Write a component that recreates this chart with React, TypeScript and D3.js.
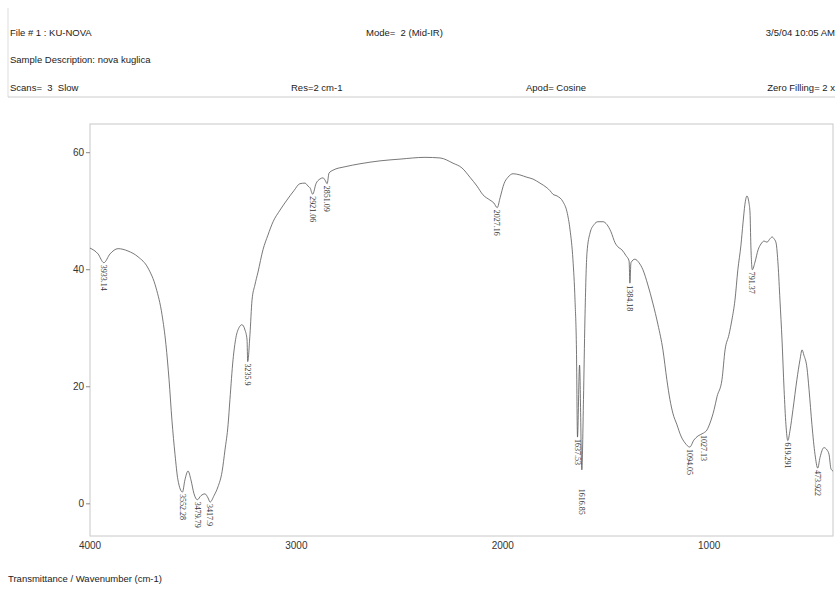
import React from "react";
import * as d3 from "d3";

// Spectrum trace (wavenumber cm-1, transmittance %)
const wavenumbers = [
  4000, 3961, 3933, 3903, 3864, 3816, 3767, 3719, 3680, 3651, 3632, 3617, 3603, 3588, 3574, 3552, 3540, 3525, 3511, 3496,
  3480, 3462, 3443, 3428, 3418, 3399, 3380, 3360, 3346, 3331, 3322, 3307, 3293, 3278, 3264, 3249, 3239, 3236, 3225, 3215,
  3201, 3186, 3162, 3138, 3113, 3079, 3046, 3012, 2983, 2958, 2944, 2934, 2921, 2905, 2886, 2871, 2861, 2851, 2842, 2823,
  2764, 2692, 2595, 2498, 2377, 2304, 2241, 2198, 2159, 2125, 2096, 2062, 2043, 2027, 2013, 1994, 1975, 1950, 1917, 1883,
  1854, 1820, 1786, 1771, 1757, 1737, 1708, 1689, 1674, 1660, 1650, 1643, 1638, 1628, 1617, 1609, 1602, 1592, 1577, 1558,
  1539, 1514, 1495, 1476, 1456, 1442, 1423, 1403, 1388, 1384, 1379, 1360, 1340, 1321, 1297, 1273, 1248, 1224, 1205, 1190,
  1176, 1156, 1137, 1117, 1094, 1074, 1054, 1027, 1011, 996, 976, 962, 938, 923, 904, 890, 875, 861, 846, 836,
  827, 817, 807, 802, 798, 791, 778, 763, 749, 734, 720, 705, 695, 686, 676, 666, 657, 647, 637, 628,
  619, 608, 594, 575, 560, 550, 541, 526, 516, 502, 487, 474, 463, 444, 429, 419, 410, 400,
];
const transmittance = [
  43.7, 42.7, 41.2, 42.7, 43.6, 43.2, 42.2, 40.3, 36.9, 32.3, 27.2, 21.2, 14.3, 8.4, 4.1, 2.0, 4.1, 5.6, 4.1, 1.7,
  0.7, 1.4, 1.7, 1.0, 0.3, 1.4, 2.9, 5.5, 9.2, 13.5, 17.8, 24.6, 28.4, 30.1, 30.6, 29.7, 28.0, 24.3, 28.9, 34.8,
  37.4, 39.6, 43.4, 45.9, 48.2, 50.2, 51.9, 53.5, 54.7, 54.8, 54.3, 54.0, 52.9, 54.7, 55.5, 55.7, 55.3, 54.7, 56.5, 57.0,
  57.6, 58.1, 58.6, 58.9, 59.2, 59.1, 58.2, 57.4, 55.8, 54.3, 52.8, 51.9, 51.4, 50.6, 52.3, 54.7, 55.8, 56.4, 56.2, 55.8,
  55.5, 54.8, 54.0, 53.5, 52.9, 52.6, 51.6, 49.9, 46.8, 41.7, 34.8, 26.3, 11.4, 23.7, 5.8, 17.8, 31.4, 42.9, 46.3, 47.7,
  48.2, 48.2, 47.7, 46.5, 44.6, 43.9, 43.4, 42.4, 41.5, 37.7, 41.2, 41.8, 41.2, 40.0, 37.4, 34.3, 30.6, 26.3, 21.2, 17.8,
  15.5, 13.5, 11.6, 10.4, 9.7, 10.9, 11.6, 12.1, 12.6, 13.8, 16.1, 18.3, 21.2, 26.3, 28.9, 31.4, 34.8, 40.0, 44.2, 48.0,
  51.1, 52.6, 51.4, 49.7, 44.2, 40.0, 41.3, 43.4, 44.4, 44.9, 44.7, 45.3, 45.6, 45.3, 44.6, 40.8, 34.8, 28.0, 19.5, 13.5,
  10.8, 12.6, 16.1, 21.2, 24.6, 26.3, 25.4, 23.2, 19.5, 13.5, 8.4, 6.1, 7.9, 9.6, 9.2, 8.4, 6.0, 5.6,
];

// Peak annotations
const peakLabels = [
  "3933.14", "3552.28", "3479.79", "3417.9", "3235.9", "2921.06", "2851.09", "2027.16",
  "1637.53", "1616.85", "1384.18", "1094.05", "1027.13", "791.37", "619.291", "473.922",
];
const peakWavenumbers = [3933.14, 3552.28, 3479.79, 3417.9, 3235.9, 2921.06, 2851.09, 2027.16, 1637.53, 1616.85, 1384.18, 1094.05, 1027.13, 791.37, 619.291, 473.922];
const peakValues = [41.2, 2.0, 0.7, 0.3, 24.3, 52.9, 54.7, 50.6, 11.4, 2.9, 37.7, 9.7, 12.1, 40.0, 10.8, 6.1];

const xTicks = [4000, 3000, 2000, 1000];
const yTicks = [0, 20, 40, 60];

const headerRow1 = ["File # 1 : KU-NOVA", "Mode=  2 (Mid-IR)", "3/5/04 10:05 AM"];
const headerRow2 = ["Sample Description: nova kuglica"];
const headerRow3 = ["Scans=  3  Slow", "Res=2 cm-1", "Apod= Cosine", "Zero Filling= 2 x"];
const footerText = "Transmittance / Wavenumber (cm-1)";

export default function App() {
  const W = 840;
  const H = 596;
  const left = 90, right = 833, top = 124, bottom = 536;
  const x = d3.scaleLinear().domain([4000, 400]).range([left, right]);
  const y = d3.scaleLinear().domain([-5.5, 64.9]).range([bottom, top]);
  const pts: [number, number][] = wavenumbers.map((w, i) => [x(w), y(transmittance[i])]);
  const line = d3.line().curve(d3.curveMonotoneX)(pts) || "";
  const sans = "'Liberation Sans', Arial, sans-serif";
  const serif = "'Liberation Serif', 'Times New Roman', serif";
  const hdr = { fontFamily: sans, fontSize: 9.5, fill: "#222", style: { whiteSpace: "pre" as const } };

  return (
    <svg width={W} height={H} style={{ position: "absolute", left: 0, top: 0, background: "#fff" }}>
      {/* header */}
      <line x1={8} x2={8} y1={8} y2={97} stroke="#ddd" strokeWidth={1} />
      <line x1={8} x2={835} y1={97} y2={97} stroke="#ccc" strokeWidth={1} />
      <text x={10} y={36} {...hdr}>{headerRow1[0]}</text>
      <text x={366} y={36} {...hdr}>{headerRow1[1]}</text>
      <text x={835} y={36} textAnchor="end" {...hdr}>{headerRow1[2]}</text>
      <text x={10} y={63} {...hdr}>{headerRow2[0]}</text>
      <text x={10} y={91} {...hdr}>{headerRow3[0]}</text>
      <text x={291} y={91} {...hdr}>{headerRow3[1]}</text>
      <text x={526} y={91} {...hdr}>{headerRow3[2]}</text>
      <text x={835} y={91} textAnchor="end" {...hdr}>{headerRow3[3]}</text>

      {/* frame */}
      <rect x={left} y={top} width={right - left} height={bottom - top} fill="none" stroke="#c8c8c8" strokeWidth={1} />

      {/* y axis */}
      {yTicks.map((t) => (
        <g key={t}>
          <line x1={left - 4} x2={left} y1={y(t)} y2={y(t)} stroke="#888" />
          <text x={left - 6} y={y(t)} dy="0.35em" textAnchor="end" fontFamily={sans} fontSize={10} fill="#333">{t}</text>
        </g>
      ))}
      {/* x axis */}
      {xTicks.map((t) => (
        <text key={t} x={x(t)} y={549} textAnchor="middle" fontFamily={sans} fontSize={10} fill="#333">{t}</text>
      ))}

      {/* spectrum */}
      <path d={line} fill="none" stroke="#555" strokeWidth={0.8} />

      {/* peak labels */}
      {peakLabels.map((lab, i) => {
        const px = x(peakWavenumbers[i]);
        const py = y(peakValues[i]) + 2;
        return (
          <text key={lab} transform={`translate(${px},${py}) rotate(90)`} dy="0.35em" fontFamily={serif} fontSize={8} fill="#333">{lab}</text>
        );
      })}

      <text x={8} y={582} fontFamily={sans} fontSize={9.5} fill="#222">{footerText}</text>
    </svg>
  );
}
